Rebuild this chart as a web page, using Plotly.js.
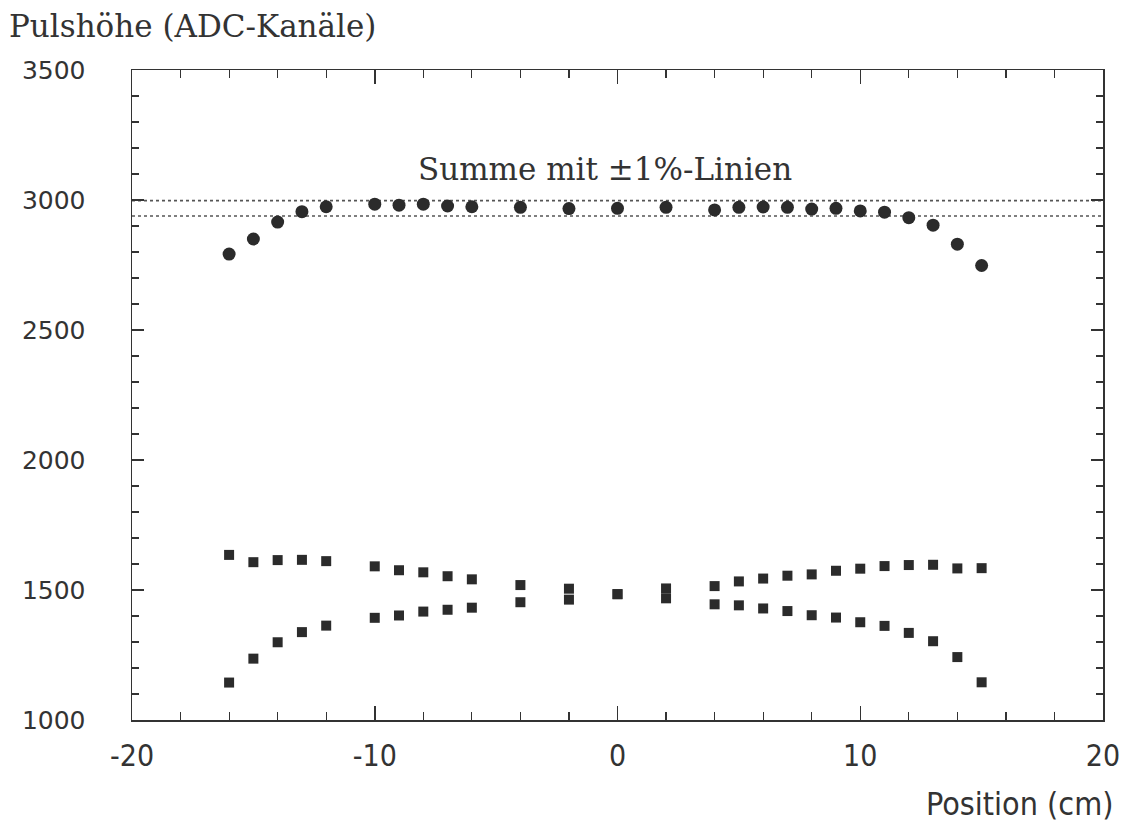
<!DOCTYPE html>
<html>
<head>
<meta charset="utf-8">
<script src="https://cdn.plot.ly/plotly-3.0.1.min.js"></script>
<style>
  html, body { margin: 0; padding: 0; background: #fff; }
  #chart { width: 1130px; height: 827px; }
</style>
</head>
<body>
<div id="chart"></div>
<script>
// Positions (cm)
const positions = [-16,-15,-14,-13,-12,-10,-9,-8,-7,-6,-4,-2,0,2,4,5,6,7,8,9,10,11,12,13,14,15];
// Summe (circles)
const summe = [2792,2850,2915,2955,2974,2984,2980,2984,2977,2974,2972,2967,2968,2972,2962,2972,2973,2972,2965,2968,2958,2953,2932,2903,2830,2748];
// Channel A (squares, high on the left)
const kanalA = [1635,1607,1615,1616,1611,1591,1576,1568,1553,1541,1519,1505,1484,1468,1445,1441,1429,1419,1403,1394,1376,1362,1335,1303,1242,1145];
// Channel B (squares, high on the right)
const kanalB = [1144,1236,1299,1338,1363,1393,1402,1417,1424,1432,1453,1463,1484,1506,1515,1533,1544,1555,1560,1574,1582,1592,1596,1597,1583,1584];
// ±1% reference lines around the plateau level
const plateauLevel = 2968;
const lineSpan = [-20, 20];
const upperLine = [plateauLevel * 1.01, plateauLevel * 1.01];
const lowerLine = [plateauLevel * 0.99, plateauLevel * 0.99];
// Tick labels
const xTickVals = [-20, -10, 0, 10, 20];
const xTickText = ['-20', '-10', '0', '10', '20'];
const yTickVals = [1000, 1500, 2000, 2500, 3000, 3500];
const yTickText = ['1000', '1500', '2000', '2500', '3000', '3500'];

const ink = '#2b2b2b';
const axisInk = '#333';

const traces = [
  { x: lineSpan, y: upperLine, mode: 'lines', line: { color: '#555', width: 1.6, dash: 'dot' }, hoverinfo: 'skip' },
  { x: lineSpan, y: lowerLine, mode: 'lines', line: { color: '#555', width: 1.6, dash: 'dot' }, hoverinfo: 'skip' },
  { x: positions, y: summe, mode: 'markers', marker: { symbol: 'circle', size: 13, color: ink } },
  { x: positions, y: kanalA, mode: 'markers', marker: { symbol: 'square', size: 10, color: ink } },
  { x: positions, y: kanalB, mode: 'markers', marker: { symbol: 'square', size: 10, color: ink } }
];

const layout = {
  width: 1130, height: 827,
  margin: { l: 132, r: 27, t: 70, b: 107 },
  paper_bgcolor: '#fff', plot_bgcolor: '#fff',
  showlegend: false,
  xaxis: {
    range: [-20, 20], tickmode: 'array', tickvals: xTickVals, ticktext: xTickText,
    showgrid: false, zeroline: false,
    showline: true, linecolor: axisInk, linewidth: 1.5, mirror: 'ticks',
    ticks: 'inside', ticklen: 14, tickwidth: 1.5, tickcolor: axisInk,
    minor: { dtick: 2, tick0: 0, ticks: 'inside', ticklen: 8, tickwidth: 1.2, tickcolor: axisInk, showgrid: false },
    tickfont: { family: 'Liberation Sans Narrow, DejaVu Sans Condensed, DejaVu Sans, sans-serif', size: 30, color: '#333' },
    ticklabelstandoff: 8
  },
  yaxis: {
    range: [1000, 3500], tickmode: 'array', tickvals: yTickVals, ticktext: yTickText,
    showgrid: false, zeroline: false,
    showline: true, linecolor: axisInk, linewidth: 1.5, mirror: 'ticks',
    ticks: 'inside', ticklen: 12, tickwidth: 1.5, tickcolor: axisInk,
    minor: { dtick: 100, tick0: 0, ticks: 'inside', ticklen: 7, tickwidth: 1.2, tickcolor: axisInk, showgrid: false },
    tickfont: { family: 'DejaVu Sans, sans-serif', size: 25, color: '#333' },
    ticklabelstandoff: 40
  },
  annotations: [
    { text: 'Pulshöhe (ADC-Kanäle)', xref: 'paper', yref: 'paper', x: 0, y: 1,
      xanchor: 'left', yanchor: 'middle', xshift: -125, yshift: 44, showarrow: false,
      font: { family: 'DejaVu Serif, serif', size: 31, color: '#333' } },
    { text: 'Position (cm)', xref: 'paper', yref: 'paper', x: 1, y: 0,
      xanchor: 'right', yanchor: 'middle', xshift: 12, yshift: -84, showarrow: false,
      font: { family: 'Liberation Sans Narrow, DejaVu Sans Condensed, DejaVu Sans, sans-serif', size: 32, color: '#333' } },
    { text: 'Summe mit ±1%-Linien', xref: 'x', yref: 'y', x: -0.5, y: 3120,
      xanchor: 'center', yanchor: 'middle', showarrow: false,
      font: { family: 'DejaVu Serif, serif', size: 31, color: '#333' } }
  ]
};

Plotly.newPlot('chart', traces, layout, { staticPlot: true, displayModeBar: false });
</script>
</body>
</html>
